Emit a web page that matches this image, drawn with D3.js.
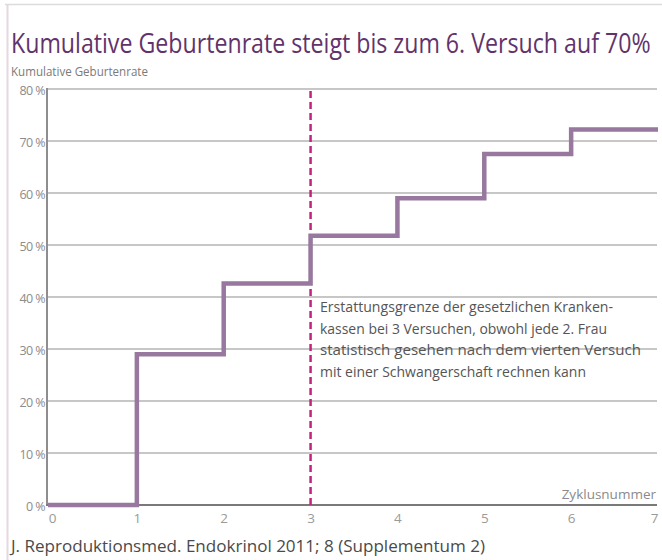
<!DOCTYPE html>
<html>
<head>
<meta charset="utf-8">
<script src="https://d3js.org/d3.v7.min.js"></script>
<style>
  body { margin: 0; background: #fff; }
  svg { display: block; }
</style>
</head>
<body>
<div id="chart"></div>
<script>
// data
var cycles = [0, 1, 2, 3, 4, 5, 6, 7];
var rates = [0, 29, 42.6, 51.8, 59, 67.5, 72.2, 72.2];
var yTicks = [0, 10, 20, 30, 40, 50, 60, 70, 80];
var xTicks = [0, 1, 2, 3, 4, 5, 6, 7];
var limitCycle = 3;
var noteLines = [
    "Erstattungsgrenze der gesetzlichen Kranken-",
    "kassen bei 3 Versuchen, obwohl jede 2. Frau",
    "statistisch gesehen nach dem vierten Versuch",
    "mit einer Schwangerschaft rechnen kann"
];
var noteWidths = [293, 287, 321, 266];

var width = 662, height = 560;
var font = "'Open Sans', 'DejaVu Sans', sans-serif";

var svg = d3.select("#chart").append("svg")
    .attr("width", width)
    .attr("height", height);

// outer frame
svg.append("line")
    .attr("x1", 5).attr("x2", width).attr("y1", 4.5).attr("y2", 4.5)
    .style("stroke", "#dcdcdc").attr("stroke-width", 1.5);
svg.append("line")
    .attr("x1", 7.5).attr("x2", 7.5).attr("y1", 4).attr("y2", height)
    .style("stroke", "#e4d8e2").attr("stroke-width", 2);

// title - squeezed horizontally to look condensed like the original
var title = svg.append("text")
    .attr("x", 0).attr("y", 0)
    .style("font-family", font)
    .style("font-size", "28px")
    .style("fill", "#62336b")
    .text("Kumulative Geburtenrate steigt bis zum 6. Versuch auf 70%");
var tw = title.node().getComputedTextLength();
title.attr("transform", "translate(11,53) scale(" + (640 / tw) + ",1)");

svg.append("text")
    .attr("x", 11).attr("y", 76)
    .attr("textLength", 137).attr("lengthAdjust", "spacingAndGlyphs")
    .style("font-family", font)
    .style("font-size", "12.5px")
    .style("fill", "#7a7a7a")
    .text("Kumulative Geburtenrate");

var x = d3.scaleLinear().domain([0, 7]).range([50, 658]);
var y = d3.scaleLinear().domain([0, 80]).range([505, 89]);

// grid lines
svg.append("g").selectAll(".grid").data(yTicks.filter(function (d) { return d > 0; }))
    .enter().append("line")
    .attr("class", "grid")
    .attr("x1", 47).attr("x2", 657)
    .attr("y1", function (d) { return y(d); })
    .attr("y2", function (d) { return y(d); })
    .style("stroke", "#b4b4b4")
    .attr("stroke-width", 1.5);

// y axis
var yAxis = svg.append("g")
    .attr("transform", "translate(47,1.5)")
    .call(d3.axisLeft(y).tickValues(yTicks).tickSize(0).tickPadding(2)
        .tickFormat(function (d) { return d + " %"; }));
yAxis.select(".domain").remove();
yAxis.selectAll("text")
    .style("font-family", font)
    .style("font-size", "12.5px")
    .style("letter-spacing", "-0.6px")
    .style("fill", "#8c8c8c");
svg.append("line")
    .attr("x1", 47).attr("x2", 47).attr("y1", y(80) - 1).attr("y2", y(0) + 1)
    .style("stroke", "#8e8e8e").attr("stroke-width", 2);

// x axis
var xAxis = svg.append("g")
    .attr("transform", "translate(0," + y(0) + ")")
    .call(d3.axisBottom(x).tickValues(xTicks).tickSize(0).tickPadding(8)
        .tickFormat(d3.format("d")));
xAxis.select(".domain").remove();
xAxis.selectAll("text")
    .attr("dx", function (d) { return d === 0 ? 2 : (d === 7 ? -4 : 0); })
    .style("font-family", font)
    .style("font-size", "13.5px")
    .style("fill", "#9a9a9a");
svg.append("line")
    .attr("x1", 46).attr("x2", 657).attr("y1", y(0)).attr("y2", y(0))
    .style("stroke", "#7a7a7a").attr("stroke-width", 2);

svg.append("text")
    .attr("x", 656).attr("y", y(0) - 6)
    .attr("text-anchor", "end")
    .style("font-family", font)
    .style("font-size", "13.5px")
    .style("fill", "#8a8a8a")
    .text("Zyklusnummer");

// dashed limit line
svg.append("line")
    .attr("x1", x(limitCycle)).attr("x2", x(limitCycle))
    .attr("y1", y(80) + 2).attr("y2", y(0))
    .style("stroke", "#c2237c")
    .attr("stroke-width", 2.5)
    .attr("stroke-dasharray", "7,4");

// step line
var points = cycles.map(function (c, i) { return [c, rates[i]]; });
var line = d3.line()
    .x(function (d) { return d[0] === 0 ? 48 : x(d[0]); })
    .y(function (d) { return y(d[1]); })
    .curve(d3.curveStepAfter);
svg.append("path")
    .attr("d", line(points))
    .style("fill", "none")
    .style("stroke", "#98789e")
    .attr("stroke-width", 4.5)
    .attr("stroke-linejoin", "miter")
    .attr("stroke-linecap", "butt");

// annotation
svg.append("g").selectAll(".note").data(noteLines).enter().append("text")
    .attr("class", "note")
    .attr("x", 320)
    .attr("y", function (d, i) { return 312 + i * 21.7; })
    .attr("textLength", function (d, i) { return noteWidths[i]; })
    .attr("lengthAdjust", "spacingAndGlyphs")
    .style("font-family", font)
    .style("font-size", "14.5px")
    .style("fill", "#555555")
    .text(function (d) { return d; });

// source
svg.append("text")
    .attr("x", 11).attr("y", 552)
    .attr("textLength", 474).attr("lengthAdjust", "spacingAndGlyphs")
    .style("font-family", font)
    .style("font-size", "16px")
    .style("fill", "#4a4a4a")
    .text("J. Reproduktionsmed. Endokrinol 2011; 8 (Supplementum 2)");
</script>
</body>
</html>
